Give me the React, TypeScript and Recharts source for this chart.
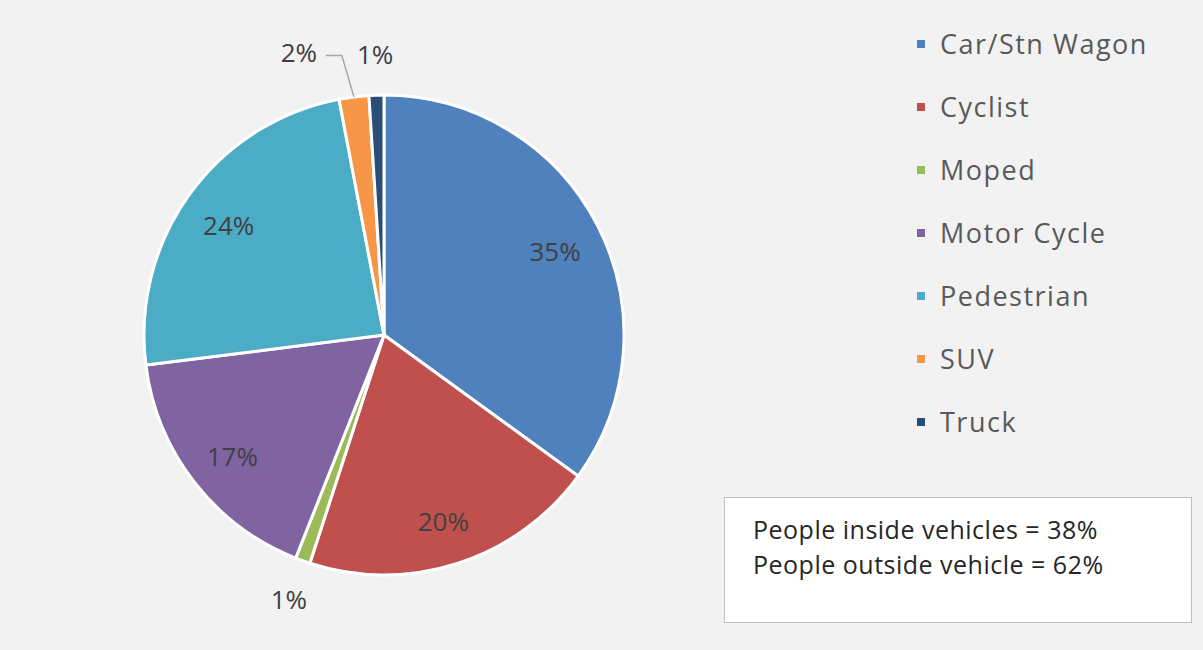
import { PieChart, Pie, Cell, Legend } from 'recharts';

const categories = ['Car/Stn Wagon', 'Cyclist', 'Moped', 'Motor Cycle', 'Pedestrian', 'SUV', 'Truck'];
const shares = [35, 20, 1, 17, 24, 2, 1];
const summaryLines = ['People inside vehicles = 38%', 'People outside vehicle = 62%'];

const COLORS = ['#4f81bd', '#c0504d', '#9bbb59', '#8064a2', '#4bacc6', '#f79646', '#2c4d75'];
const FONT = '"Open Sans", "DejaVu Sans", sans-serif';
const RAD = Math.PI / 180;

// small slices whose outside label would collide get pulled sideways with a leader line
const LABEL_SHIFT: Record<string, number> = { SUV: -50 };

const data = categories.map((name, i) => ({ name, value: shares[i] }));

function renderLabel(props: any) {
  const { cx, cy, midAngle, outerRadius, value, name } = props;
  const cos = Math.cos(-midAngle * RAD);
  const sin = Math.sin(-midAngle * RAD);
  const text = `${value}%`;
  if (value >= 5) {
    const r = outerRadius * 0.8;
    return (
      <text x={cx + r * cos} y={cy + r * sin + 3} fill="#404040" fontSize={26} fontFamily={FONT}
        textAnchor="middle" dominantBaseline="central">
        {text}
      </text>
    );
  }
  const r = outerRadius * 1.17;
  const shift = LABEL_SHIFT[name] ?? 0;
  const lx = cx + r * cos + shift;
  const ly = cy + r * sin - (shift !== 0 ? 4 : 0);
  return (
    <g>
      {shift !== 0 && (
        <polyline
          points={`${lx + 27},${ly + 3} ${lx + 43},${ly + 3} ${cx + outerRadius * cos},${cy + outerRadius * sin}`}
          fill="none" stroke="#a6a6a6" strokeWidth={1.5}
        />
      )}
      <text x={lx} y={ly} fill="#404040" fontSize={26} fontFamily={FONT}
        textAnchor="middle" dominantBaseline="central">
        {text}
      </text>
    </g>
  );
}

function LegendList() {
  return (
    <div style={{ fontFamily: FONT }}>
      {categories.map((name, i) => (
        <div key={name} style={{ display: 'flex', alignItems: 'center', height: 63 }}>
          <span style={{ width: 8, height: 8, background: COLORS[i], marginRight: 15 }} />
          <span style={{ fontSize: 27, color: '#595959', letterSpacing: 1.5 }}>{name}</span>
        </div>
      ))}
    </div>
  );
}

export default function App() {
  return (
    <div style={{ position: 'relative', width: 1203, height: 650, background: '#f2f2f2' }}>
      <style>{'body{margin:0}'}</style>
      <PieChart width={1203} height={650} margin={{ top: 0, right: 0, bottom: 0, left: 0 }}>
        <Pie
          data={data}
          dataKey="value"
          nameKey="name"
          cx={384}
          cy={335}
          outerRadius={240}
          startAngle={90}
          endAngle={-270}
          stroke="#ffffff"
          strokeWidth={3}
          label={renderLabel}
          labelLine={false}
          isAnimationActive={false}
        >
          {data.map((d, i) => (
            <Cell key={d.name} fill={COLORS[i]} />
          ))}
        </Pie>
        <Legend
          layout="vertical"
          content={<LegendList />}
          wrapperStyle={{ left: 917, top: 12, width: 285 }}
        />
      </PieChart>
      <div
        style={{
          position: 'absolute', left: 724, top: 497, width: 468, height: 126,
          background: '#ffffff', border: '1.5px solid #bfbfbf', boxSizing: 'border-box',
          padding: '14px 0 0 28px', fontFamily: FONT, fontSize: 25, lineHeight: '35px', color: '#262626',
          letterSpacing: 0.5,
        }}
      >
        {summaryLines.map((line) => (
          <div key={line}>{line}</div>
        ))}
      </div>
    </div>
  );
}
